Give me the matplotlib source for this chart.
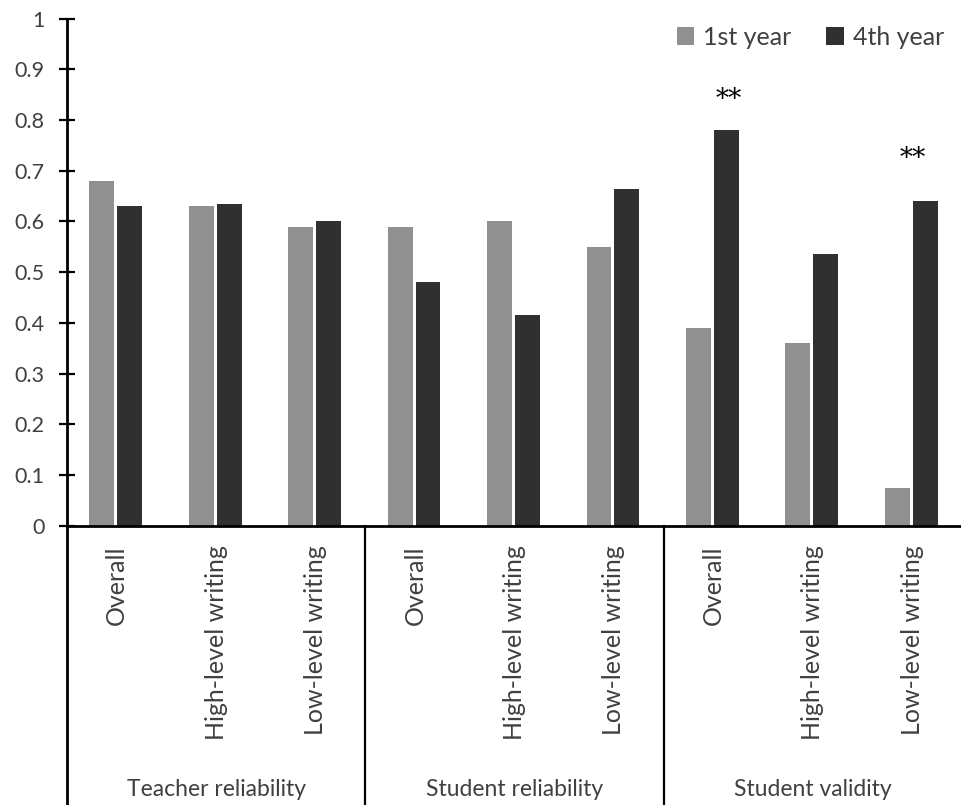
import matplotlib
matplotlib.use("Agg")
import matplotlib.pyplot as plt
import numpy as np

plt.rcParams['font.family'] = ['Lato', 'DejaVu Sans']

# data
groups = ["Teacher reliability", "Student reliability", "Student validity"]
subcats = ["Overall", "High-level writing", "Low-level writing"]
first_year = [0.68, 0.63, 0.59, 0.59, 0.60, 0.55, 0.39, 0.36, 0.075]
fourth_year = [0.63, 0.635, 0.60, 0.48, 0.415, 0.665, 0.78, 0.535, 0.64]
# significance markers: (x position, y level)
stars = [(6.15, 0.84), (8.0, 0.725)]

light = "#909090"
dark = "#303030"
txt = "#404040"

fig = plt.figure(figsize=(9.62, 8.05), dpi=100)
ax = fig.add_axes([0.0697, 0.347, 0.9303, 0.6298])

x = np.arange(len(first_year))
w = 0.25
ax.bar(x - 0.15, first_year, w, color=light, label="1st year")
ax.bar(x + 0.13, fourth_year, w, color=dark, label="4th year")

for sx, sy in stars:
    ax.text(sx, sy, "**", ha="center", va="center", fontsize=19,
            color="black", family="DejaVu Serif")

ax.set_xlim(-0.5, 8.5)
ax.set_ylim(0, 1)
ax.set_yticks(np.arange(0, 1.01, 0.1))
ax.set_yticklabels(["0"] + [f"{v:.1f}" for v in np.arange(0.1, 0.95, 0.1)] + ["1"])

ax.spines[["top", "right"]].set_visible(False)
ax.spines["left"].set_linewidth(2)
ax.spines["bottom"].set_linewidth(2)
ax.tick_params(axis="y", direction="inout", length=12, width=1.6, pad=10,
               labelsize=15.5, labelcolor=txt)

ax.set_xticks(x)
ax.set_xticklabels(subcats * 3, rotation=90, va="top", ha="center")
ax.tick_params(axis="x", length=0, pad=14, labelsize=18, labelcolor=txt)

# group separators running down to the bottom of the figure
trans = ax.get_xaxis_transform()
for xs in [-0.5, 2.5, 5.5]:
    ax.plot([xs, xs], [0, -0.56], color="black", lw=1.6 if xs > 0 else 2,
            transform=trans, clip_on=False)

for gi, g in enumerate(groups):
    ax.text(gi * 3 + 1, -0.521, g, transform=trans, ha="center", va="center",
            fontsize=16.5, color=txt)

ax.legend(loc="upper right", bbox_to_anchor=(1.005, 1.03), ncol=2, frameon=False,
          fontsize=18, handlelength=0.7, handleheight=0.7, handletextpad=0.35,
          columnspacing=1.4, labelcolor=txt)

fig.savefig("out.png", dpi=100)
